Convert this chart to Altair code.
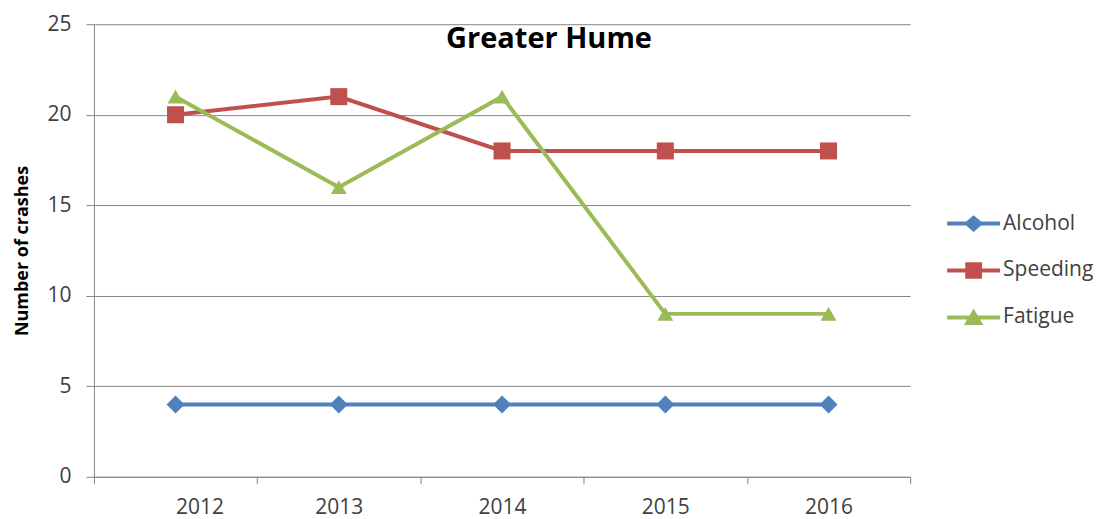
import altair as alt
import pandas as pd

years = [2012, 2013, 2014, 2015, 2016]
series = ["Alcohol", "Speeding", "Fatigue"]
alcohol = [4, 4, 4, 4, 4]
speeding = [20, 21, 18, 18, 18]
fatigue = [21, 16, 21, 9, 9]
colors = ["#4F81BD", "#C0504D", "#9BBB59"]
y_ticks = [0, 5, 10, 15, 20, 25]

rows = []
for name, vals in zip(series, [alcohol, speeding, fatigue]):
    for yr, v in zip(years, vals):
        rows.append({"year": yr, "value": v, "series": name})
df = pd.DataFrame(rows)

FONT = "Open Sans"
half_ticks = [y - 0.5 for y in years] + [years[-1] + 0.5]

x_enc = alt.X(
    "year:Q",
    scale=alt.Scale(domain=[years[0] - 0.5, years[-1] + 0.5], nice=False, zero=False),
    axis=alt.Axis(
        values=half_ticks,
        labelExpr="datum.value > 2016 ? '' : format(datum.value + 0.5, 'd')",
        labelOffset=81.7,
        grid=False,
        tickSize=7,
        tickColor="#868686",
        domainColor="#868686",
        labelPadding=13,
        labelFontSize=21,
        labelFont=FONT,
        labelColor="#404040",
        title=None,
    ),
)
y_enc = alt.Y(
    "value:Q",
    scale=alt.Scale(domain=[0, 25], nice=False),
    axis=alt.Axis(
        values=y_ticks,
        tickSize=8,
        tickColor="#868686",
        domainColor="#868686",
        gridColor="#868686",
        labelPadding=15,
        labelFontSize=21,
        labelFont=FONT,
        labelColor="#404040",
        title="Number of crashes",
        titleFont=FONT,
        titleFontSize=18,
        titleFontWeight="bold",
        titleColor="#000000",
        titlePadding=15,
    ),
)

def color_enc(legend=None):
    return alt.Color(
        "series:N",
        scale=alt.Scale(domain=series, range=colors),
        legend=legend,
    )

base = alt.Chart(df)

lines = base.mark_line(strokeWidth=4).encode(
    x=x_enc, y=y_enc, color=color_enc(), detail="series:N", order=alt.Order("year:Q")
)

points = base.mark_point(filled=True, opacity=1).encode(
    x=x_enc,
    y=y_enc,
    color=color_enc(),
    shape=alt.Shape(
        "series:N",
        scale=alt.Scale(domain=series, range=["diamond", "square", "triangle-up"]),
        legend=None,
    ),
    size=alt.Size(
        "series:N",
        scale=alt.Scale(domain=series, range=[324, 256, 400]),
        legend=None,
    ),
)

bar = "M-1.14,-0.085L1.14,-0.085L1.14,0.085L-1.14,0.085Z"
legend_paths = [
    bar + " M0,-0.36L0.42,0L0,0.36L-0.42,0Z",
    bar + " M-0.36,-0.36L0.36,-0.36L0.36,0.36L-0.36,0.36Z",
    bar + " M0,-0.38L0.42,0.32L-0.42,0.32Z",
]

legend_props = dict(
    title=None,
    orient="none",
    legendX=857,
    legendY=176,
    symbolSize=2162,
    symbolStrokeWidth=0,
    symbolOpacity=1,
    labelFont=FONT,
    labelFontSize=21,
    labelColor="#404040",
    labelOffset=6,
    rowPadding=13,
    padding=0,
)

legend_layer = base.transform_filter("datum.value < 0").mark_point(filled=True).encode(
    x=x_enc,
    y=y_enc,
    color=color_enc(alt.Legend(**legend_props)),
    shape=alt.Shape(
        "series:N",
        scale=alt.Scale(domain=series, range=legend_paths),
        legend=alt.Legend(**legend_props),
    ),
)

chart = (
    alt.layer(lines, points, legend_layer)
    .resolve_scale(shape="independent", size="independent", color="independent")
    .properties(
        width=817,
        height=453,
        title=alt.TitleParams(
            "Greater Hume",
            font=FONT,
            fontSize=29,
            fontWeight="bold",
            color="#000000",
            dx=47,
            dy=45,
            anchor="middle",
        ),
        padding={"left": 5, "top": 5, "right": 0, "bottom": 2},
    )
    .configure_view(stroke=None)
)

chart.save("out.html", embed_options={"renderer": "svg", "actions": False})
